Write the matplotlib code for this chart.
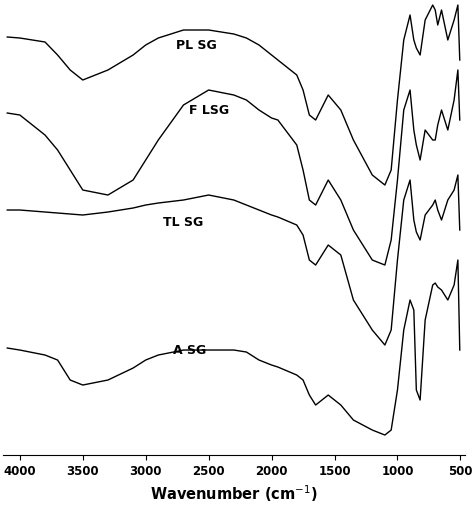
import matplotlib
matplotlib.use("Agg")
import matplotlib.pyplot as plt

wn = [4100,4000,3800,3700,3600,3500,3300,3100,3000,2900,2700,2500,2300,2200,2100,2000,1950,1800,1750,1700,1650,1550,1450,1350,1200,1100,1050,1000,950,900,870,850,820,780,720,700,680,650,600,550,520,505]
pl = [37,38,42,55,70,80,70,55,45,38,30,30,34,38,45,55,60,75,90,115,120,95,110,140,175,185,170,100,40,15,40,48,55,20,5,10,25,10,40,20,5,60]
fl = [113,115,135,150,170,190,195,180,160,140,105,90,95,100,110,118,120,145,170,200,205,180,200,230,260,265,240,180,110,90,130,145,160,130,140,140,125,110,130,100,70,120]
tl = [210,210,212,213,214,215,212,208,205,203,200,195,200,205,210,215,217,225,235,260,265,245,255,300,330,345,330,260,200,180,220,232,240,215,205,200,210,220,200,190,175,230]
asg = [348,350,355,360,380,385,380,368,360,355,350,350,350,352,360,365,367,375,380,395,405,395,405,420,430,435,430,390,330,300,310,390,400,320,285,283,287,290,300,285,260,350]
names = ["PL SG","F LSG","TL SG","A SG"]
label_pos = [(2600,45),(2500,110),(2700,222),(2650,350)]

fig = plt.figure(figsize=(4.73,5.13), dpi=100)
ax = fig.add_axes([0.006,0.113,0.978,0.887])
for y in [pl,fl,tl,asg]:
    ax.plot(wn, y, color="black", lw=1.0)
for n,(x,y) in zip(names,label_pos):
    ax.text(x,y,n,fontsize=9,fontweight="bold",ha="center",va="center")
ax.set_xlim(4135,460)
ax.set_ylim(455,0)
ax.set_yticks([])
for s in ["left","right","top"]:
    ax.spines[s].set_visible(False)
ax.set_xticks([4000,3500,3000,2500,2000,1500,1000,500])
ax.tick_params(axis="x", labelsize=8.5)
for t in ax.get_xticklabels():
    t.set_fontweight("bold")
ax.set_xlabel("Wavenumber (cm$^{-1}$)", fontsize=10.5, fontweight="bold")
fig.savefig("out.png", dpi=100)
